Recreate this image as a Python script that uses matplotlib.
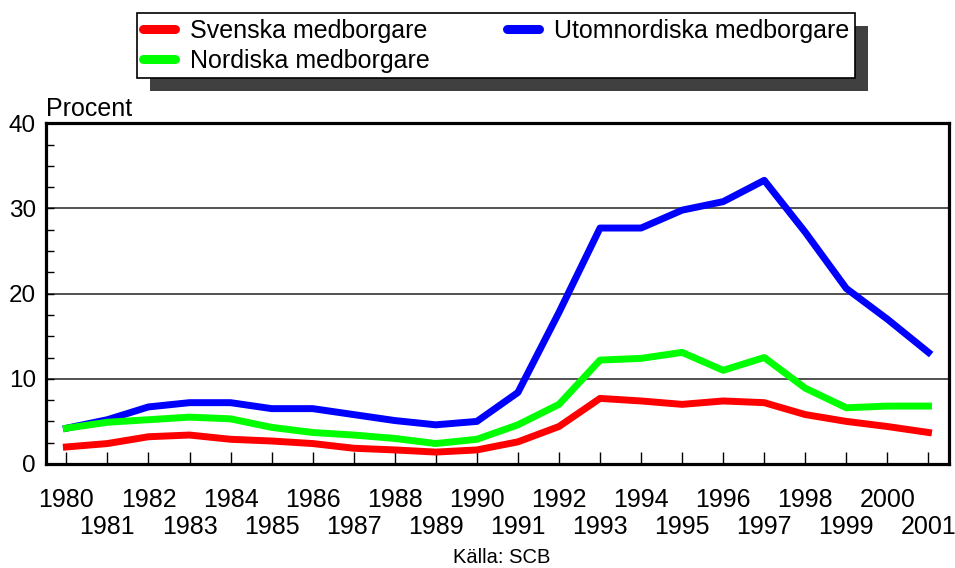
import matplotlib.pyplot as plt
from matplotlib.lines import Line2D
from matplotlib.patches import Rectangle
from matplotlib.ticker import MultipleLocator

plt.rcParams['font.family'] = ['Liberation Sans', 'DejaVu Sans']

# %%
years = list(range(1980, 2002))
svenska = [2.0, 2.4, 3.2, 3.4, 2.9, 2.7, 2.4, 1.85, 1.65, 1.4, 1.65,
           2.6, 4.4, 7.7, 7.4, 7.0, 7.4, 7.2, 5.8, 5.0, 4.4, 3.7]
nordiska = [4.2, 4.9, 5.2, 5.5, 5.3, 4.3, 3.7, 3.4, 3.0, 2.4, 2.9,
            4.6, 7.0, 12.2, 12.4, 13.1, 11.0, 12.5, 8.9, 6.6, 6.8, 6.8]
utomnordiska = [4.2, 5.2, 6.7, 7.2, 7.2, 6.5, 6.5, 5.8, 5.1, 4.6, 5.0,
                8.4, 17.8, 27.7, 27.7, 29.8, 30.8, 33.3, 27.2, 20.6, 17.0, 13.1]
labels = ['Svenska medborgare', 'Nordiska medborgare', 'Utomnordiska medborgare']
colors = ['#ff0000', '#00ff00', '#0000ff']

# %%
fig = plt.figure(figsize=(9.55, 5.68), dpi=100)
ax = fig.add_axes([0.048, 0.1831, 0.9457, 0.5999])

ax.plot(years, utomnordiska, color=colors[2], lw=5, zorder=3)
ax.plot(years, nordiska, color=colors[1], lw=5, zorder=4)
ax.plot(years, svenska, color=colors[0], lw=5, zorder=5)

ax.set_xlim(1979.5, 2001.5)
ax.set_ylim(0, 40)
ax.set_yticks([0, 10, 20, 30, 40])
ax.yaxis.set_minor_locator(MultipleLocator(2.5))
ax.set_xticks(years[::2])
ax.set_xticks(years[1::2], minor=True)
ax.set_xticklabels([str(y) for y in years[::2]])
ax.set_xticklabels([str(y) for y in years[1::2]], minor=True)

ax.tick_params(axis='x', which='both', direction='in', length=8.6, width=1,
               labelsize=18)
ax.tick_params(axis='x', which='major', pad=17.5)
ax.tick_params(axis='x', which='minor', pad=36.5)
ax.tick_params(axis='y', which='both', direction='in', length=6, width=1,
               labelsize=17.5, pad=7)

for y in [10, 20, 30]:
    ax.axhline(y, color='#222222', lw=1.1, zorder=1)
for s in ax.spines.values():
    s.set_linewidth(2.3)

ax.text(0.0, 1.0206, 'Procent', transform=ax.transAxes, fontsize=18,
        ha='left', va='baseline')
fig.text(0.525, 0.018, 'Källa: SCB', fontsize=14.5, ha='center', va='center')

# %%
handles = [Line2D([], [], color=c, lw=6.5, solid_capstyle='round') for c in colors]
leg = fig.legend(handles, labels, loc='upper left', ncol=2, mode='expand',
                 bbox_to_anchor=(0.1435, 0.8644, 0.752, 0.1127),
                 borderaxespad=0, fontsize=18, frameon=True, fancybox=False,
                 edgecolor='black', framealpha=1, handlelength=1.3,
                 handletextpad=0.6, labelspacing=0.25, borderpad=0.22)
leg.get_frame().set_linewidth(1.2)

fig.canvas.draw()
bb = leg.get_window_extent().transformed(fig.transFigure.inverted())
dx, dy = 13 / 955, 13 / 568
fig.add_artist(Rectangle((bb.x0 + dx, bb.y0 - dy), bb.width, bb.height,
                         transform=fig.transFigure, facecolor='#404040',
                         edgecolor='none', zorder=leg.get_zorder() - 1))

fig.savefig('out.png', dpi=100)
